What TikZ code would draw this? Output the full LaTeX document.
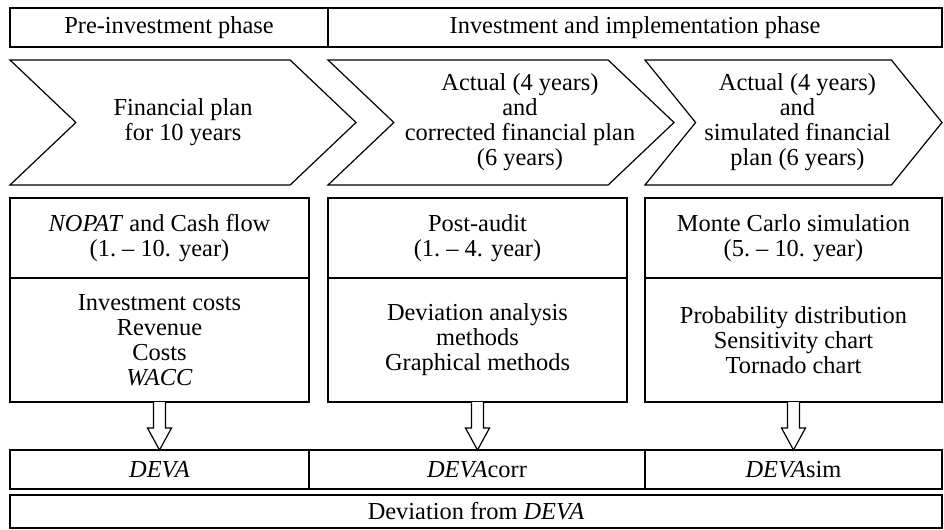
\documentclass[tikz,border=0pt]{standalone}
\usepackage{fontspec}
\setmainfont{Liberation Serif}
\usetikzlibrary{positioning,calc,shapes.symbols}

\tikzstyle{box}=[rectangle,draw=black,line width=0.6pt,inner sep=0pt,outer sep=0pt,align=center]
\tikzstyle{hollow}=[draw=black,line width=0.6pt,fill=white,line join=miter]

% block arrow from the bottom of one node to the top of another
\newcommand{\hollowarrow}[2]{%
  \draw [hollow] ($(#1.south)+(-6,0)$) -- ($(#1.south |- #2.north)+(-6,-22)$)
    -- ($(#1.south |- #2.north)+(-12,-22)$) -- (#1.south |- #2.north)
    -- ($(#1.south |- #2.north)+(12,-22)$) -- ($(#1.south |- #2.north)+(6,-22)$)
    -- ($(#1.south)+(6,0)$);}

\begin{document}
\begin{tikzpicture}[x=0.5pt,y=-0.5pt,
            font=\fontsize{12.2}{12.5}\selectfont,
            chevron/.style={signal, draw=black, line width=0.6pt, signal from=west, signal to=east,
                   signal pointer angle=87, minimum height=62.5pt, inner sep=0pt, outer sep=0pt},
            txt/.style={align=center, inner sep=0pt},
            header/.style={box, minimum height=19.5pt},
            upper/.style={box, minimum height=40pt},
            lower/.style={box, minimum height=62pt},
            result/.style={box, minimum height=19.5pt}
        ]
            \useasboundingbox (0,0) rectangle (944,530);

            % Phases
            \node [header, minimum width=159pt] (pre) at (169,27.5) {Pre-investment phase};
            \node [header, minimum width=307pt, right=0pt of pre] (impl) {Investment and implementation phase};

            % Plans
            \node [chevron, minimum width=173pt] (plan) at (183,122.5) {};
            \node [chevron, minimum width=173pt] (corrplan) at (501,122.5) {};
            \node [chevron, minimum width=148.5pt, signal pointer angle=102] (simplan) at (793.5,122.5) {};
            \node [txt] (plantxt) at (plan.center) {Financial plan\\for 10 years};
            \node [txt] (corrplantxt) at ([xshift=9.5pt]corrplan.center) {Actual (4 years)\\and\\corrected financial plan\\(6 years)};
            \node [txt] (simplantxt) at ([xshift=2pt]simplan.center) {Actual (4 years)\\and\\simulated financial\\plan (6 years)};

            % Methods
            \node [upper, minimum width=149.5pt] (nopat) at (159.5,238) {\textit{NOPAT} and Cash flow\\(1.~–~10. year)};
            \node [lower, minimum width=149.5pt, below=0pt of nopat] (inputs) {Investment costs\\Revenue\\Costs\\\textit{WACC}};
            \node [upper, minimum width=149.5pt, right=9.5pt of nopat] (audit) {Post-audit\\(1.~–~4. year)};
            \node [lower, minimum width=149.5pt, below=0pt of audit] (analysis) {Deviation analysis\\methods\\Graphical methods};
            \node [upper, minimum width=148.5pt, right=9pt of audit] (monte) {Monte Carlo simulation\\(5.~–~10. year)};
            \node [lower, minimum width=148.5pt, below=0pt of monte] (charts) {Probability distribution\\Sensitivity chart\\Tornado chart};

            % Results
            \node [result, minimum width=149.5pt] (deva) at (159.5,469.5) {\textit{DEVA}};
            \node [result, minimum width=168pt, right=0pt of deva] (devacorr) {\textit{DEVA}corr};
            \node [result, minimum width=148.5pt, right=0pt of devacorr] (devasim) {\textit{DEVA}sim};
            \node [box, minimum width=466pt, minimum height=16.5pt] (devdeva) at (476,511.5) {Deviation from \textit{DEVA}};

            % Draw arrows
            \hollowarrow{inputs}{deva}
            \hollowarrow{analysis}{devacorr}
            \hollowarrow{charts}{devasim}
        \end{tikzpicture}
\end{document}
